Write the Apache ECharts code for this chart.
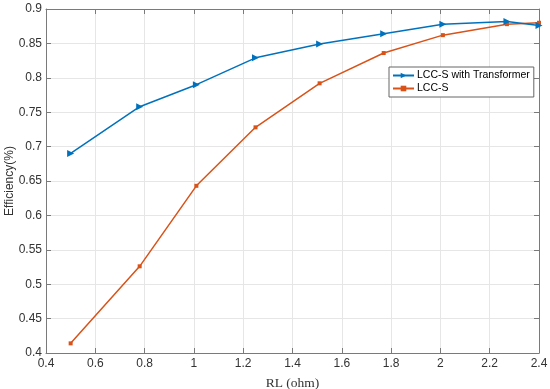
<!DOCTYPE html>
<html><head><meta charset="utf-8">
<script src="https://cdn.jsdelivr.net/npm/echarts@6/dist/echarts.min.js"></script>
<style>html,body{margin:0;padding:0;background:#fff}#c{width:550px;height:389px}</style>
</head><body><div id="c"></div>
<script>
var rl = [0.5, 0.78, 1.01, 1.25, 1.51, 1.77, 2.01, 2.27, 2.4];
var withTransformer = [0.690, 0.758, 0.790, 0.829, 0.849, 0.864, 0.878, 0.882, 0.876];
var lccS = [0.414, 0.526, 0.643, 0.728, 0.792, 0.836, 0.862, 0.878, 0.880];
var xTicks = [0.4, 0.6, 0.8, 1, 1.2, 1.4, 1.6, 1.8, 2, 2.2, 2.4];
var yTicks = [0.4, 0.45, 0.5, 0.55, 0.6, 0.65, 0.7, 0.75, 0.8, 0.85, 0.9];

function pairs(xs, ys){ return xs.map(function(x,i){ return [x, ys[i]]; }); }
var axisCol = '#7a7a7a';
var labelCol = '#333333';
var chart = echarts.init(document.getElementById('c'));
var baseX = {type:'value', min:0.4, max:2.4, interval:0.2,
  axisLine:{show:true, onZero:false, lineStyle:{color:axisCol, width:1}},
  axisTick:{show:true, inside:true, length:5, lineStyle:{color:axisCol}},
  splitLine:{show:false}};
var baseY = {type:'value', min:0.4, max:0.9, interval:0.05,
  axisLine:{show:true, onZero:false, lineStyle:{color:axisCol, width:1}},
  axisTick:{show:true, inside:true, length:5, lineStyle:{color:axisCol}},
  splitLine:{show:false}};
chart.setOption({
  animation:false,
  textStyle:{fontFamily:'Liberation Sans, Arial, sans-serif'},
  grid:{left:46, right:11, top:9, bottom:36, containLabel:false, outerBoundsMode:'none'},
  legend:{
    left:389, top:67, orient:'vertical', itemGap:2, itemWidth:21, itemHeight:7,
    borderColor:'#666', borderWidth:1, padding:[3,4,3,3], backgroundColor:'#fff',
    textStyle:{fontSize:10.5, color:'#000', fontFamily:'Liberation Sans, Arial, sans-serif', padding:[0,0,0,-2]},
    data:['LCC-S with Transformer','LCC-S']
  },
  xAxis:[
    Object.assign({}, baseX, {position:'bottom',
      name:'RL (ohm)', nameLocation:'middle', nameGap:23, nameMoveOverlap:false,
      nameTextStyle:{fontFamily:'Liberation Serif, Times New Roman, serif', fontSize:13.5, color:labelCol},
      axisLabel:{fontSize:12, color:labelCol, margin:5, showMaxLabel:true, showMinLabel:true,
        formatter:function(v){ var t = xTicks.find(function(k){return Math.abs(k-v)<1e-9;}); return t===undefined?'':String(t);} },
      splitLine:{show:true, lineStyle:{color:'#e6e6e6', width:1}}}),
    Object.assign({}, baseX, {position:'top', axisLabel:{show:false}})
  ],
  yAxis:[
    Object.assign({}, baseY, {position:'left',
      name:'Efficiency(%)', nameLocation:'middle', nameGap:30, nameMoveOverlap:false,
      nameTextStyle:{fontSize:12, color:labelCol},
      axisLabel:{fontSize:12, color:labelCol, margin:4,
        formatter:function(v){ var t = yTicks.find(function(k){return Math.abs(k-v)<1e-9;}); return t===undefined?'':String(t);} },
      splitLine:{show:true, lineStyle:{color:'#e6e6e6', width:1}}}),
    Object.assign({}, baseY, {position:'right', axisLabel:{show:false}})
  ],
  series:[
    {name:'LCC-S with Transformer', type:'line', data:pairs(rl, withTransformer),
     color:'#0072BD', lineStyle:{width:1.5, color:'#0072BD'},
     symbol:'triangle', symbolRotate:-90, symbolSize:7, showAllSymbol:true,
     itemStyle:{color:'#0072BD'}, z:3},
    {name:'LCC-S', type:'line', data:pairs(rl, lccS),
     color:'#D95319', lineStyle:{width:1.5, color:'#D95319'},
     symbol:'rect', symbolSize:4, showAllSymbol:true,
     itemStyle:{color:'#D95319'}, z:2}
  ]
});
</script></body></html>
